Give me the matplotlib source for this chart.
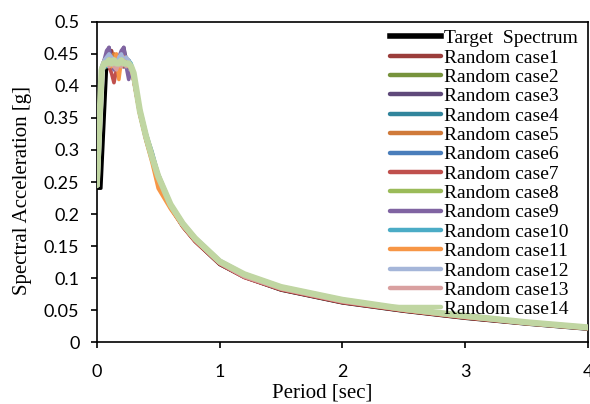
import matplotlib
matplotlib.use('Agg')
import matplotlib.pyplot as plt
from matplotlib.ticker import FuncFormatter, MultipleLocator

# target design spectrum
t_target = [0, 0.035, 0.08, 0.10, 0.20, 0.28, 0.30, 0.35, 0.40, 0.45, 0.50, 0.60, 0.70,
            0.80, 1.0, 1.2, 1.5, 2.0, 2.5, 3.0, 3.5, 4.0]
sa_target = [0.24, 0.24, 0.425, 0.43, 0.43, 0.43, 0.415, 0.355, 0.315, 0.283, 0.253, 0.21, 0.18,
             0.157, 0.121, 0.101, 0.081, 0.061, 0.048, 0.037, 0.028, 0.020]

# periods used for the random cases
t_rand = [0, 0.02, 0.04, 0.06, 0.08, 0.10, 0.12, 0.14, 0.16, 0.18, 0.20, 0.22, 0.24, 0.26,
          0.28, 0.30, 0.35, 0.40, 0.45, 0.50, 0.60, 0.70, 0.80, 1.0, 1.2, 1.5, 2.0, 2.5,
          3.0, 3.5, 4.0]

case1 = [0.245, 0.34, 0.425, 0.43, 0.44, 0.448, 0.455, 0.44, 0.425, 0.43, 0.445, 0.44, 0.43,
         0.435, 0.43, 0.41, 0.358, 0.318, 0.286, 0.255, 0.211, 0.181, 0.158, 0.122, 0.102,
         0.082, 0.062, 0.049, 0.038, 0.029, 0.021]
case2 = [0.245, 0.345, 0.43, 0.435, 0.43, 0.44, 0.435, 0.44, 0.445, 0.43, 0.435, 0.44, 0.435,
         0.43, 0.425, 0.415, 0.362, 0.322, 0.29, 0.26, 0.214, 0.184, 0.161, 0.126, 0.105,
         0.085, 0.065, 0.051, 0.040, 0.030, 0.022]
case3 = [0.245, 0.34, 0.425, 0.44, 0.445, 0.46, 0.44, 0.43, 0.435, 0.44, 0.45, 0.46, 0.44,
         0.43, 0.43, 0.42, 0.365, 0.325, 0.29, 0.262, 0.216, 0.186, 0.162, 0.127, 0.106,
         0.086, 0.066, 0.052, 0.041, 0.031, 0.023]
case4 = [0.245, 0.335, 0.42, 0.43, 0.435, 0.44, 0.43, 0.435, 0.44, 0.43, 0.44, 0.435, 0.43,
         0.44, 0.43, 0.415, 0.362, 0.326, 0.297, 0.262, 0.214, 0.184, 0.161, 0.125, 0.105,
         0.085, 0.065, 0.051, 0.040, 0.030, 0.022]
case5 = [0.245, 0.34, 0.425, 0.435, 0.44, 0.435, 0.445, 0.45, 0.43, 0.44, 0.435, 0.44, 0.445,
         0.435, 0.425, 0.41, 0.356, 0.318, 0.285, 0.252, 0.212, 0.182, 0.159, 0.124, 0.104,
         0.084, 0.064, 0.050, 0.039, 0.030, 0.022]
case6 = [0.245, 0.34, 0.425, 0.43, 0.435, 0.445, 0.44, 0.43, 0.44, 0.445, 0.435, 0.43, 0.44,
         0.435, 0.43, 0.415, 0.363, 0.324, 0.291, 0.261, 0.216, 0.186, 0.163, 0.127, 0.106,
         0.086, 0.066, 0.052, 0.041, 0.031, 0.023]
case7 = [0.245, 0.34, 0.425, 0.435, 0.44, 0.43, 0.42, 0.405, 0.425, 0.44, 0.445, 0.43, 0.435,
         0.44, 0.425, 0.41, 0.357, 0.317, 0.284, 0.254, 0.21, 0.18, 0.157, 0.122, 0.101,
         0.082, 0.062, 0.049, 0.038, 0.029, 0.021]
case8 = [0.245, 0.34, 0.425, 0.43, 0.44, 0.435, 0.44, 0.435, 0.43, 0.44, 0.435, 0.44, 0.435,
         0.43, 0.425, 0.415, 0.36, 0.321, 0.288, 0.258, 0.214, 0.184, 0.16, 0.125, 0.105,
         0.085, 0.065, 0.051, 0.040, 0.030, 0.022]
case9 = [0.245, 0.345, 0.43, 0.44, 0.455, 0.46, 0.435, 0.425, 0.44, 0.445, 0.455, 0.46, 0.43,
         0.41, 0.425, 0.415, 0.364, 0.323, 0.29, 0.26, 0.215, 0.185, 0.162, 0.126, 0.105,
         0.085, 0.065, 0.051, 0.040, 0.030, 0.022]
case10 = [0.245, 0.34, 0.425, 0.435, 0.43, 0.44, 0.445, 0.435, 0.43, 0.44, 0.445, 0.435, 0.43,
          0.44, 0.435, 0.42, 0.366, 0.327, 0.293, 0.262, 0.215, 0.185, 0.162, 0.126, 0.106,
          0.086, 0.066, 0.052, 0.041, 0.031, 0.023]
case11 = [0.245, 0.34, 0.425, 0.44, 0.435, 0.445, 0.43, 0.44, 0.45, 0.41, 0.44, 0.445, 0.435,
          0.43, 0.43, 0.41, 0.355, 0.315, 0.28, 0.24, 0.208, 0.181, 0.159, 0.124, 0.104,
          0.084, 0.064, 0.050, 0.039, 0.030, 0.022]
case12 = [0.245, 0.345, 0.43, 0.44, 0.445, 0.45, 0.445, 0.44, 0.435, 0.445, 0.45, 0.44, 0.445,
          0.44, 0.43, 0.42, 0.366, 0.327, 0.293, 0.263, 0.217, 0.187, 0.164, 0.128, 0.107,
          0.087, 0.067, 0.053, 0.042, 0.032, 0.024]
case13 = [0.245, 0.34, 0.425, 0.43, 0.435, 0.43, 0.44, 0.43, 0.425, 0.435, 0.43, 0.44, 0.43,
          0.435, 0.425, 0.41, 0.358, 0.319, 0.287, 0.256, 0.212, 0.182, 0.159, 0.123, 0.102,
          0.083, 0.063, 0.050, 0.039, 0.030, 0.022]
case14 = [0.245, 0.34, 0.425, 0.435, 0.435, 0.44, 0.435, 0.44, 0.435, 0.435, 0.44, 0.435, 0.435,
          0.435, 0.43, 0.42, 0.362, 0.322, 0.289, 0.259, 0.215, 0.185, 0.162, 0.126, 0.106,
          0.086, 0.066, 0.052, 0.041, 0.031, 0.023]

cases = [case1, case2, case3, case4, case5, case6, case7, case8, case9, case10,
         case11, case12, case13, case14]
case_colors = ['#9B3D3B', '#77933C', '#5F497A', '#31859C', '#D07A3A', '#4A7EBB', '#C0504D',
               '#9BBB59', '#8064A2', '#4BACC6', '#F79646', '#A5B6D9', '#D9A0A0', '#C0D6A2']

serif = 'Liberation Serif'

fig = plt.figure(figsize=(5.9, 4.04), dpi=100)
ax = fig.add_axes([0.164, 0.153, 0.833, 0.793])

ax.plot(t_target, sa_target, color='black', lw=2.2, label='Target  Spectrum', zorder=2)
for i, vals in enumerate(cases):
    lw = 4.5 if i == 13 else 2.6
    ax.plot(t_rand, vals, color=case_colors[i], lw=lw, label='Random case' + str(i + 1),
            zorder=3 + i, solid_capstyle='round')

ax.set_xlim(0, 4)
ax.set_ylim(0, 0.5)
ax.xaxis.set_major_locator(MultipleLocator(1))
ax.yaxis.set_major_locator(MultipleLocator(0.05))
fmt = FuncFormatter(lambda v, p: '%g' % round(v, 3))
ax.xaxis.set_major_formatter(fmt)
ax.yaxis.set_major_formatter(fmt)
ax.tick_params(direction='out', length=4.5, width=1.2, labelsize=13, pad=8)
ax.tick_params(axis='x', pad=11)
for lab in ax.get_xticklabels() + ax.get_yticklabels():
    lab.set_fontfamily('Lato')
for s in ax.spines.values():
    s.set_linewidth(1.2)

ax.set_xlabel('Period [sec]', fontfamily=serif, fontsize=15)
ax.set_ylabel('Spectral Acceleration [g]', fontfamily=serif, fontsize=15)
ax.xaxis.set_label_coords(0.458, -0.128)
ax.yaxis.set_label_coords(-0.132, 0.475)

leg = ax.legend(loc='upper left', bbox_to_anchor=(0.581, 1.0), frameon=False,
                prop={'family': serif, 'size': 14}, labelspacing=0.09,
                handlelength=2.6, handletextpad=0.15, borderaxespad=0)
for h in leg.get_lines():
    h.set_linewidth(3.2)
leg.get_lines()[0].set_linewidth(4)
leg.set_zorder(30)

fig.savefig('out.png', dpi=100)
